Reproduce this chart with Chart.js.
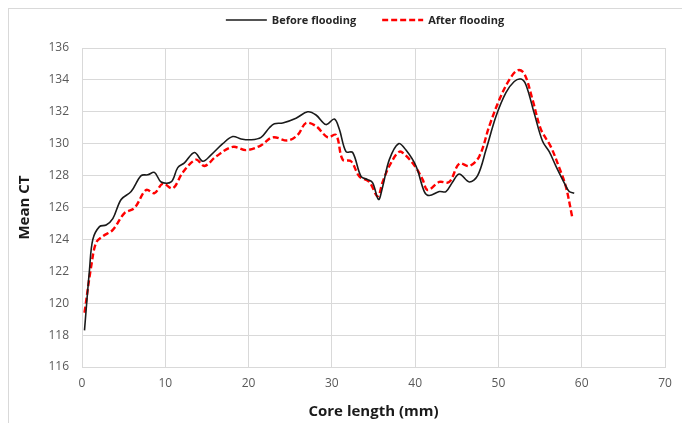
<!DOCTYPE html>
<html>
<head>
<meta charset="utf-8">
<script src="https://cdn.jsdelivr.net/npm/chart.js@4.4.1/dist/chart.umd.min.js"></script>
<style>
    html, body { margin: 0; padding: 0; background: #fff; }
    #wrap { width: 682px; height: 423px; }
</style>
</head>
<body>
<div id="wrap"><canvas id="ctChart" width="682" height="423"></canvas></div>
<script>
// values
const beforeX = [0.3, 0.9, 1.3, 2.1, 2.9, 3.7, 4.7, 5.9, 7.1, 7.9, 8.7, 9.5, 10.7, 11.5, 12.3, 13.5, 14.5, 15.5, 16.9, 18.1, 19.1, 20.3, 21.5, 22.5, 23.1, 24.1, 25.7, 27.1, 28.1, 29.3, 30.3, 30.9, 31.7, 32.5, 33.5, 34.3, 34.9, 35.6, 36.1, 36.9, 38.0, 38.9, 40.1, 41.1, 41.7, 42.9, 43.7, 44.5, 45.3, 46.5, 47.5, 48.5, 49.7, 50.9, 51.9, 52.7, 53.3, 54.3, 55.3, 56.1, 56.9, 57.9, 58.5, 59.1];
const beforeCT = [118.3, 122.1, 124.0, 124.8, 124.9, 125.3, 126.5, 127.0, 128.0, 128.05, 128.2, 127.6, 127.6, 128.5, 128.8, 129.45, 128.9, 129.3, 130.0, 130.45, 130.3, 130.25, 130.4, 131.0, 131.25, 131.3, 131.6, 132.0, 131.8, 131.2, 131.55, 130.9, 129.5, 129.45, 127.95, 127.75, 127.55, 126.5, 127.3, 129.0, 130.0, 129.6, 128.6, 127.0, 126.75, 127.0, 127.0, 127.6, 128.1, 127.6, 128.0, 129.6, 131.7, 133.2, 133.9, 134.05, 133.7, 131.9, 130.15, 129.5, 128.6, 127.55, 127.0, 126.9];

const afterX = [0.3, 1.1, 1.7, 2.5, 3.7, 5.1, 6.3, 7.7, 8.7, 9.7, 10.9, 12.1, 13.7, 14.7, 16.1, 18.1, 19.7, 21.5, 22.9, 24.7, 25.9, 26.9, 28.1, 29.5, 30.5, 31.3, 32.3, 33.3, 34.5, 35.5, 36.1, 36.9, 38.1, 38.9, 40.1, 40.9, 41.5, 42.9, 44.1, 45.3, 46.5, 47.7, 48.9, 50.1, 51.3, 52.3, 53.1, 54.1, 55.1, 56.3, 57.3, 58.1, 58.9];
const afterCT = [119.4, 122.3, 123.8, 124.2, 124.6, 125.65, 125.97, 127.1, 126.9, 127.5, 127.2, 128.2, 129.0, 128.6, 129.2, 129.8, 129.6, 129.9, 130.4, 130.2, 130.55, 131.3, 131.1, 130.4, 130.55, 129.0, 128.9, 127.95, 127.6, 126.7, 127.6, 128.6, 129.5, 129.25, 128.5, 127.75, 127.1, 127.6, 127.6, 128.75, 128.6, 129.2, 131.1, 132.75, 134.0, 134.6, 134.4, 132.75, 130.9, 129.8, 128.5, 127.3, 125.3];

const seriesNames = ['Before flooding', 'After flooding'];
const xTicks = [0, 10, 20, 30, 40, 50, 60, 70];
const yTicks = [116, 118, 120, 122, 124, 126, 128, 130, 132, 134, 136];

const FONT = "'Open Sans', 'Liberation Sans', sans-serif";
const toPoints = (xs, ys) => xs.map((x, i) => ({ x: x, y: ys[i] }));

// light frame around the chart, like the office export
const framePlugin = {
    id: 'frame',
    beforeDraw(chart) {
        const ctx = chart.ctx;
        ctx.save();
        ctx.strokeStyle = '#d9d9d9';
        ctx.lineWidth = 1;
        ctx.strokeRect(8.5, 8.5, chart.width + 10, chart.height + 10);
        ctx.restore();
    }
};

// legend with line samples (solid / dashed)
const lineLegend = {
    id: 'lineLegend',
    afterDraw(chart) {
        const ctx = chart.ctx;
        ctx.save();
        ctx.font = "bold 11px " + FONT;
        ctx.textBaseline = 'middle';
        const sample = 41, gap = 5, between = 26;
        const items = chart.data.datasets.map(ds => ({ ds: ds, w: ctx.measureText(ds.label).width }));
        let total = 0;
        items.forEach((it, i) => { total += sample + gap + it.w + (i ? between : 0); });
        let x = 365 - total / 2;
        const y = 20;
        items.forEach((it, i) => {
            if (i) x += between;
            ctx.strokeStyle = it.ds.borderColor;
            ctx.lineWidth = it.ds.borderWidth;
            ctx.setLineDash(it.ds.borderDash || []);
            ctx.beginPath();
            ctx.moveTo(x, y);
            ctx.lineTo(x + sample, y);
            ctx.stroke();
            ctx.setLineDash([]);
            ctx.fillStyle = '#262626';
            ctx.fillText(it.ds.label, x + sample + gap, y + 1);
            x += sample + gap + it.w;
        });
        ctx.restore();
    }
};

const ctx = document.getElementById('ctChart').getContext('2d');
const ctChart = new Chart(ctx, {
    type: 'scatter',
    data: {
        datasets: [{
            label: seriesNames[0],
            data: toPoints(beforeX, beforeCT),
            showLine: true,
            borderColor: '#1a1a1a',
            borderWidth: 1.6,
            pointRadius: 0,
            tension: 0.35,
        }, {
            label: seriesNames[1],
            data: toPoints(afterX, afterCT),
            showLine: true,
            borderColor: '#ff0000',
            borderWidth: 2.4,
            borderDash: [6, 3],
            pointRadius: 0,
            tension: 0.35,
        }]
    },
    options: {
        responsive: false,
        animation: false,
        layout: { padding: { top: 48, right: 17, bottom: 0, left: 0 } },
        plugins: {
            legend: { display: false },
            tooltip: { enabled: false }
        },
        scales: {
            x: {
                type: 'linear',
                min: 0,
                max: 70,
                afterBuildTicks: axis => { axis.ticks = xTicks.map(v => ({ value: v })); },
                afterFit: axis => { axis.height = 56; },
                grid: { color: '#d9d9d9', lineWidth: 1, drawTicks: false },
                border: { color: '#d9d9d9' },
                ticks: { color: '#595959', padding: 9, font: { family: FONT, size: 12 } },
                title: {
                    display: true,
                    text: 'Core length (mm)',
                    color: '#1a1a1a',
                    padding: { top: 8, bottom: 2 },
                    font: { family: FONT, size: 15, weight: 'bold' }
                }
            },
            y: {
                min: 116,
                max: 136,
                afterBuildTicks: axis => { axis.ticks = yTicks.map(v => ({ value: v })); },
                afterFit: axis => { axis.width = 82; },
                grid: { color: '#d9d9d9', lineWidth: 1, drawTicks: false },
                border: { color: '#d9d9d9' },
                ticks: { color: '#595959', padding: 13, font: { family: FONT, size: 12 } },
                title: {
                    display: true,
                    text: 'Mean CT',
                    color: '#1a1a1a',
                    padding: { top: 16, bottom: 0 },
                    font: { family: FONT, size: 15, weight: 'bold' }
                }
            }
        }
    },
    plugins: [framePlugin, lineLegend]
});
</script>
</body>
</html>
